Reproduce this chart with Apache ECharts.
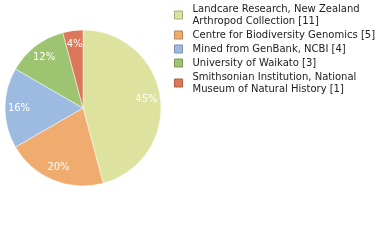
<!DOCTYPE html>
<html><head><meta charset="utf-8">
<script src="https://cdn.jsdelivr.net/npm/echarts@6/dist/echarts.min.js"></script>
<style>html,body{margin:0;padding:0;background:#fff}#c{width:380px;height:240px}</style>
</head><body><div id="c"></div>
<script>
const categories = ["Landcare Research, New Zealand\nArthropod Collection", "Centre for Biodiversity Genomics", "Mined from GenBank, NCBI", "University of Waikato", "Smithsonian Institution, National\nMuseum of Natural History"];
const values = [11, 5, 4, 3, 1];
const colors = ["#dde39e", "#f0ac6e", "#9dbae0", "#9dc471", "#dc775a"];
const borders = ["#a9ad78", "#b9845a", "#7a90ad", "#7a9858", "#a85c47"];
const total = values.reduce((a, b) => a + b, 0);
const data = categories.map((n, i) => ({name: n, value: values[i], itemStyle: {color: colors[i]}}));
const chart = echarts.init(document.getElementById('c'));
chart.setOption({
  animation: false,
  legend: {
    orient: 'vertical', left: 174, top: 3, padding: 0, itemWidth: 8, itemHeight: 8, itemGap: 2,
    icon: 'rect',
    data: categories.map((n, i) => ({name: n, itemStyle: {color: colors[i], borderColor: borders[i], borderWidth: 1}})),
    formatter: n => { const i = categories.indexOf(n); return n + ' [' + values[i] + ']'; },
    textStyle: {fontFamily: 'DejaVu Sans', fontSize: 10, color: '#222', lineHeight: 12, padding: [0, 0, 0, 5]},
    selectedMode: false
  },
  series: [{
    type: 'pie', center: [83, 108], radius: [0, 78], startAngle: 90, clockwise: true,
    label: {show: false}, labelLine: {show: false}, silent: true,
    itemStyle: {borderColor: '#fff', borderWidth: 0.5},
    data: data
  }, {
    type: 'pie', center: [83, 108], radius: [44, 78], startAngle: 90, clockwise: true,
    silent: true, legendHoverLink: false,
    itemStyle: {color: 'rgba(0,0,0,0)'},
    label: {show: true, position: 'inside', color: '#fff', fontFamily: 'DejaVu Sans', fontSize: 10,
      formatter: p => Math.floor(p.value / total * 100) + '%'},
    data: categories.map((n, i) => ({name: n, value: values[i]}))
  }]
});
</script></body></html>
